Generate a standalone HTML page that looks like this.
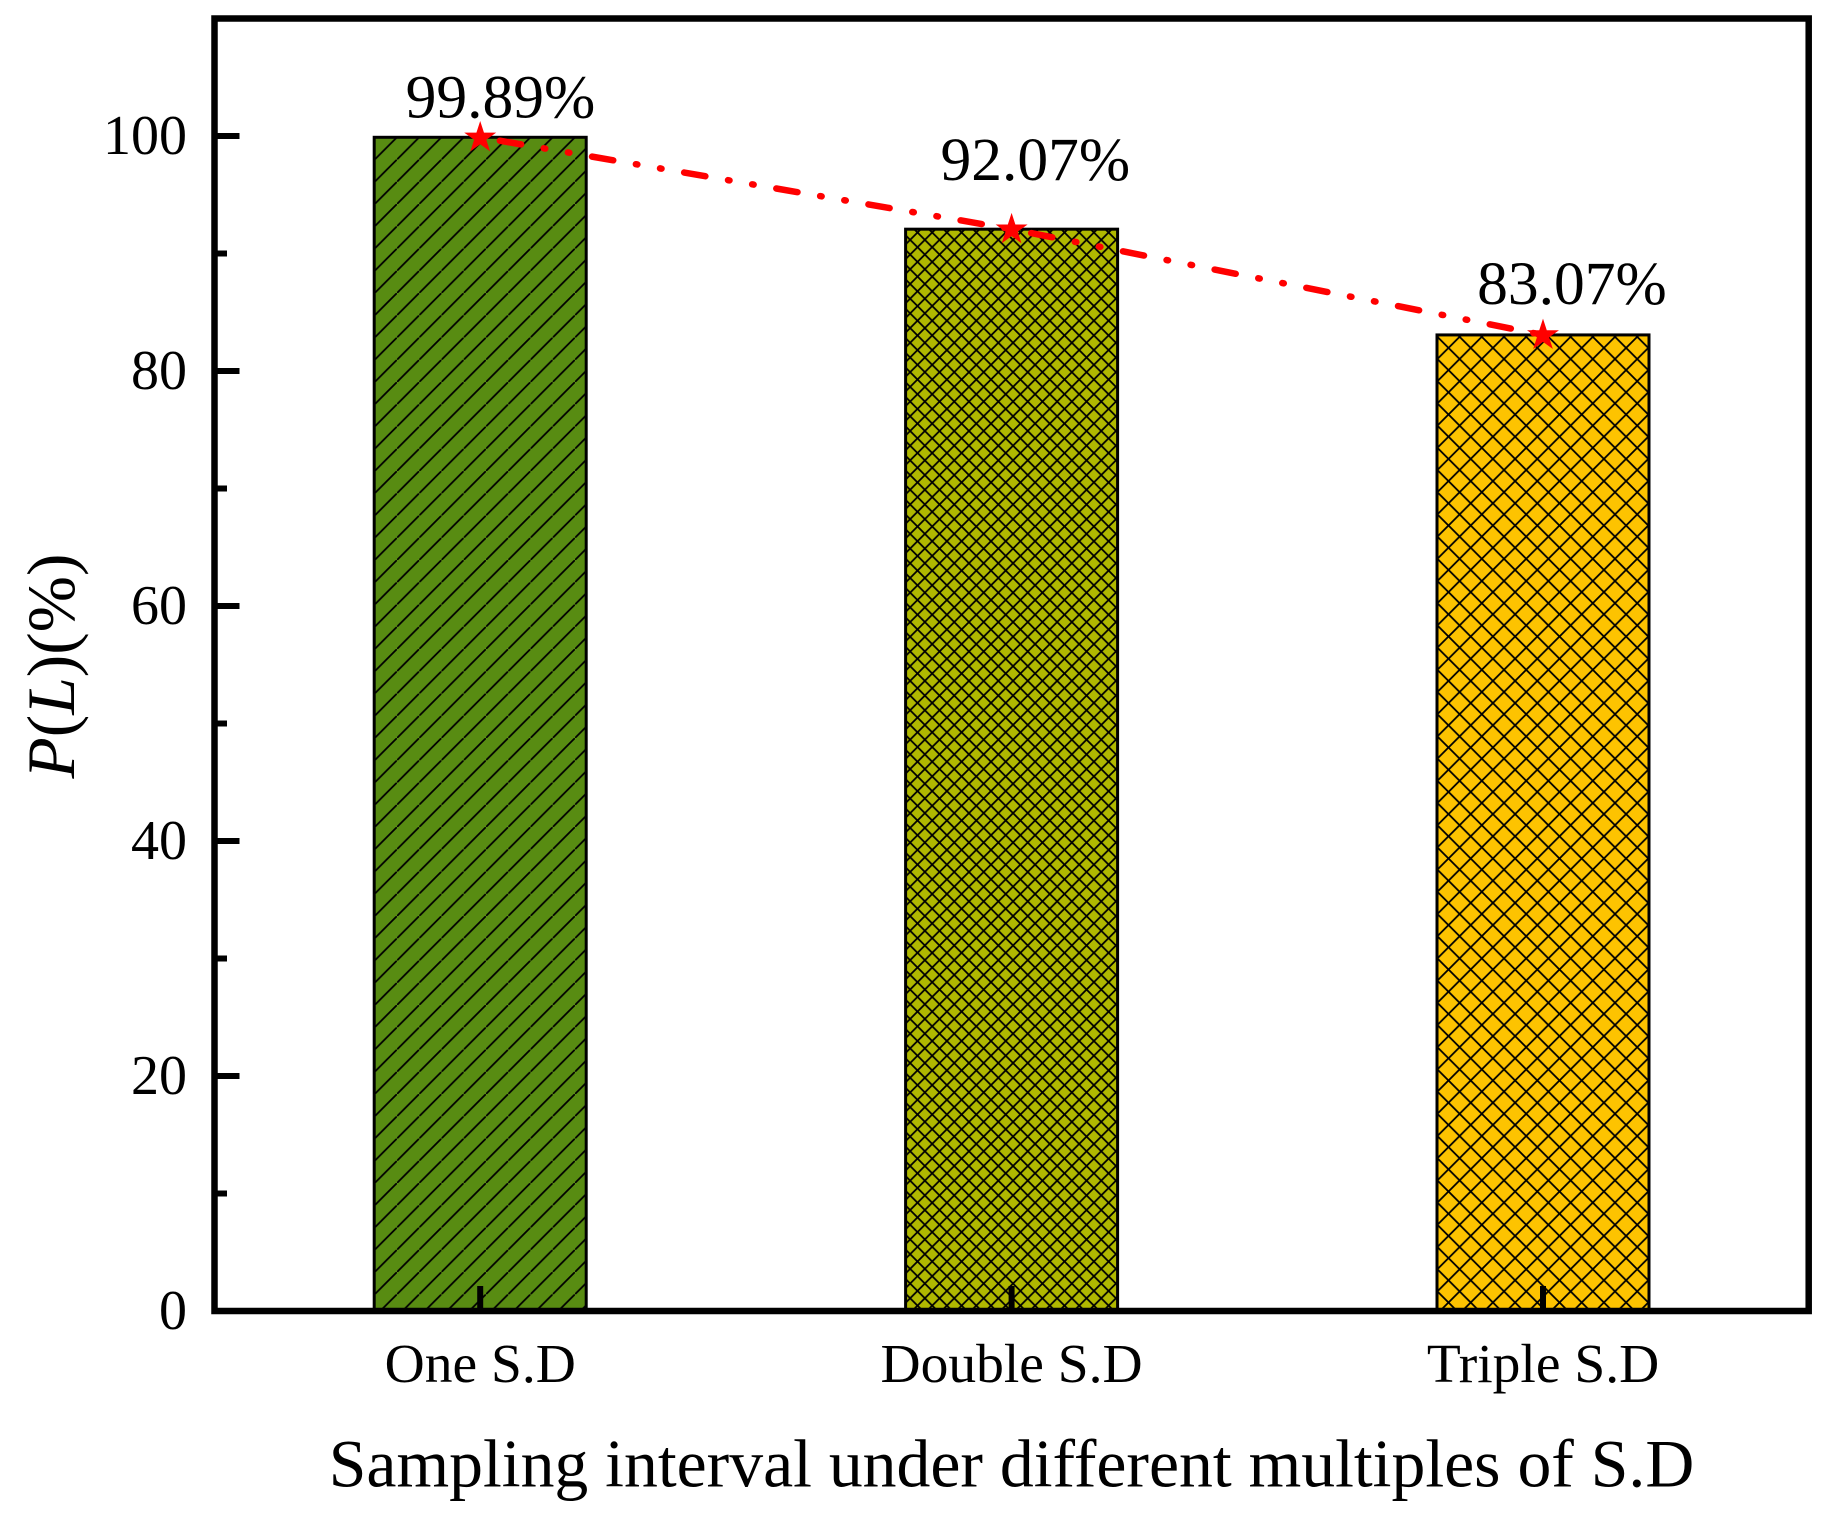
<!DOCTYPE html>
<html>
<head>
<meta charset="utf-8">
<title>P(L) by sampling interval</title>
<style>
  html, body { margin: 0; padding: 0; background: #ffffff; }
  #chart { display: block; font-family: "Liberation Serif", "Times New Roman", serif; }
</style>
</head>
<body>
<svg id="chart" width="1829" height="1522" viewBox="0 0 1829 1522" xmlns="http://www.w3.org/2000/svg">
  <defs>
    <pattern id="hatch-single" patternUnits="userSpaceOnUse" x="1398.2" y="137.3" width="22.25" height="22.25">
      <path d="M-2,24.25 L24.25,-2" stroke="#000" stroke-width="1.8" fill="none"/>
    </pattern>
    <pattern id="hatch-dense" patternUnits="userSpaceOnUse" x="991" y="732.3" width="14.7" height="14.7">
      <path d="M-2,16.7 L16.7,-2 M-2,-2 L16.7,16.7 M-2,2 L2,-2 M12.7,16.7 L16.7,12.7 M12.7,-2 L16.7,2 M-2,12.7 L2,16.7" stroke="#000" stroke-width="1.8" fill="none"/>
    </pattern>
    <pattern id="hatch-wide" patternUnits="userSpaceOnUse" x="1470.7" y="1169.3" width="22.2" height="22.2">
      <path d="M-2,24.2 L24.2,-2 M-2,-2 L24.2,24.2 M-2,2 L2,-2 M20.2,24.2 L24.2,20.2 M20.2,-2 L24.2,2 M-2,20.2 L2,24.2" stroke="#000" stroke-width="1.8" fill="none"/>
    </pattern>
  </defs>
  <rect x="0" y="0" width="1829" height="1522" fill="#ffffff"/>
  <g id="bars"></g>
  <g id="line"></g>
  <rect x="214.5" y="18.5" width="1594.2" height="1292.5" fill="none" stroke="#000" stroke-width="6.5"/>
  <g id="ticks"></g>
  <g id="markers"></g>
  <g id="labels" fill="#000"></g>
  <text x="1011.5" y="1486.7" font-size="67.7" text-anchor="middle" fill="#000">Sampling interval under different multiples of S.D</text>
  <text transform="translate(74,666) rotate(-90)" font-size="67.5" text-anchor="middle" fill="#000"><tspan font-style="italic">P</tspan>(<tspan font-style="italic">L</tspan>)(%)</text>
</svg>
<script>
const categories = ["One S.D", "Double S.D", "Triple S.D"];
const seriesValues = [99.89, 92.07, 83.07];
const valueLabels = ["99.89%", "92.07%", "83.07%"];
const yMajorTicks = [0, 20, 40, 60, 80, 100];
const yMinorTicks = [10, 30, 50, 70, 90];

const SVG_NS = "http://www.w3.org/2000/svg";
const plot = { left: 214.5, right: 1808.7, top: 18.5, bottom: 1311 };
const yMax = 110;
const barColors = ["#588c12", "#b0b800", "#fdc300"];
const barHatches = ["hatch-single", "hatch-dense", "hatch-wide"];
const labelRise = [20, 49, 31];
const labelShift = [20.2, 23.7, 28.9];

function xScale(i) {
  return plot.left + (i + 0.5) * (plot.right - plot.left) / categories.length;
}
function yScale(v) {
  return plot.bottom - v * (plot.bottom - plot.top) / yMax;
}
function make(tag, attrs, parent) {
  const el = document.createElementNS(SVG_NS, tag);
  for (const k in attrs) el.setAttribute(k, attrs[k]);
  parent.appendChild(el);
  return el;
}
function starPoints(cx, cy, R) {
  const r = R * 0.382;
  const pts = [];
  for (let k = 0; k < 10; k++) {
    const rad = k % 2 === 0 ? R : r;
    const a = -Math.PI / 2 + k * Math.PI / 5;
    pts.push((cx + rad * Math.cos(a)).toFixed(2) + "," + (cy + rad * Math.sin(a)).toFixed(2));
  }
  return pts.join(" ");
}

const barsG = document.getElementById("bars");
const lineG = document.getElementById("line");
const ticksG = document.getElementById("ticks");
const markersG = document.getElementById("markers");
const labelsG = document.getElementById("labels");
const barWidth = 212;

seriesValues.forEach(function (v, i) {
  const x = xScale(i) - barWidth / 2;
  const y = yScale(v);
  const h = plot.bottom - y;
  const base = make("rect", { x: x, y: y, width: barWidth, height: h, fill: barColors[i] }, barsG);
  
  
  const hatch = make("rect", { x: x, y: y, width: barWidth, height: h, fill: "url(#" + barHatches[i] + ")", stroke: "#000", "stroke-width": 3 }, barsG);
  
  
});

for (let i = 0; i < seriesValues.length - 1; i++) {
  const seg = make("line", {
    x1: xScale(i), y1: yScale(seriesValues[i]),
    x2: xScale(i + 1), y2: yScale(seriesValues[i + 1]),
    stroke: "#ff0000", "stroke-width": 6.5, "stroke-linecap": "round",
    "stroke-dasharray": "21.5 23 1.5 23 1.5 23", "stroke-dashoffset": -20
  }, lineG);
  
  
}

seriesValues.forEach(function (v, i) {
  const star = make("polygon", { points: starPoints(xScale(i), yScale(v) + 0.5, 16.8), fill: "#ff0000" }, markersG);
  
  
  const val = make("text", { x: xScale(i) + labelShift[i], y: yScale(v) - labelRise[i], "font-size": 61.5, "text-anchor": "middle" }, labelsG);
  val.textContent = valueLabels[i];
  
  
  const tick = make("line", { x1: xScale(i), x2: xScale(i), y1: plot.bottom, y2: plot.bottom - 25, stroke: "#000", "stroke-width": 6 }, ticksG);
  
  
  const cat = make("text", { x: xScale(i), y: 1382, "font-size": 55.5, "text-anchor": "middle" }, labelsG);
  cat.textContent = categories[i];
  
  
});

yMajorTicks.forEach(function (v) {
  const t = make("line", { x1: plot.left, x2: 239.5, y1: yScale(v), y2: yScale(v), stroke: "#000", "stroke-width": 6 }, ticksG);
  
  
  const lab = make("text", { x: 187, y: yScale(v) + 18, "font-size": 56, "text-anchor": "end" }, labelsG);
  lab.textContent = String(v);
  
  
});
yMinorTicks.forEach(function (v) {
  const t = make("line", { x1: plot.left, x2: 227, y1: yScale(v), y2: yScale(v), stroke: "#000", "stroke-width": 6 }, ticksG);
  
  
});
</script>
</body>
</html>
